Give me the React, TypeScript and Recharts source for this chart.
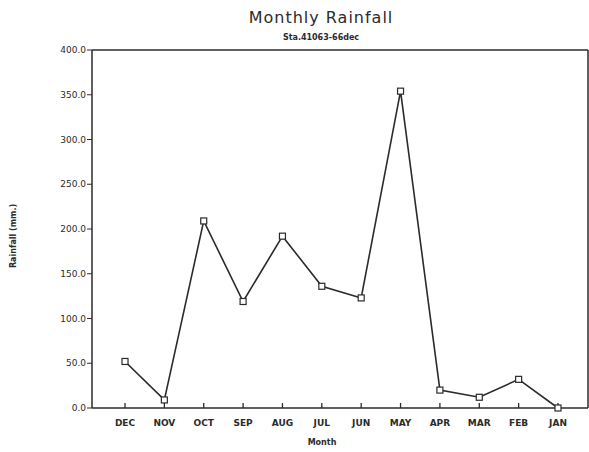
import React from 'react';
import { LineChart, Line, XAxis, YAxis } from 'recharts';

const months = ['DEC', 'NOV', 'OCT', 'SEP', 'AUG', 'JUL', 'JUN', 'MAY', 'APR', 'MAR', 'FEB', 'JAN'];
const rainfall = [52, 9, 209, 119, 192, 136, 123, 354, 20, 12, 32, 0];
const yTicks = [0, 50, 100, 150, 200, 250, 300, 350, 400];

const data = months.map((m, i) => ({ month: m, rain: rainfall[i] }));

const ink = '#2b2b2b';
const font = '"DejaVu Sans", sans-serif';

const Square = (props: any) => {
    const { cx, cy } = props;
    if (cx == null || cy == null) return null;
    return <rect x={cx - 3} y={cy - 3} width={6} height={6} fill="#fff" stroke={ink} strokeWidth={1.2} />;
};

// inward tick mark on the month axis, placed at each category on the baseline
const InTick = (props: any) => {
    const { cx, cy } = props;
    if (cx == null || cy == null) return null;
    return <line x1={cx} y1={cy} x2={cx} y2={cy - 5} stroke={ink} strokeWidth={1.3} />;
};

export default function App() {
    return (
        <div style={{ position: 'absolute', left: 0, top: 0, width: 589, height: 452, background: '#fff', fontFamily: font }}>
            <div style={{ position: 'absolute', left: 0, width: 642, top: 8, textAlign: 'center', fontSize: 16, letterSpacing: 1, color: ink }}>
                Monthly Rainfall
            </div>
            <div style={{ position: 'absolute', left: 0, width: 642, top: 33, textAlign: 'center', fontSize: 8, fontWeight: 'bold', color: ink }}>
                Sta.41063-66dec
            </div>
            <div style={{ position: 'absolute', left: 0, width: 644, top: 438, textAlign: 'center', fontSize: 8, fontWeight: 'bold', color: ink }}>
                Month
            </div>
            <div
                style={{
                    position: 'absolute', left: 13, top: 236, fontSize: 8, fontWeight: 'bold', color: ink,
                    transform: 'translate(-50%, -50%) rotate(-90deg)', whiteSpace: 'nowrap',
                }}
            >
                Rainfall (mm.)
            </div>
            <LineChart width={589} height={452} data={data} margin={{ top: 49, right: 0, left: 0, bottom: 14 }}>
                <XAxis
                    dataKey="month"
                    padding={{ left: 33, right: 30 }}
                    tickLine={false}
                    tickMargin={6}
                    tick={{ fontSize: 9, fontWeight: 'bold', fill: ink, fontFamily: font }}
                    axisLine={{ stroke: ink, strokeWidth: 1.5 }}
                    height={30}
                    interval={0}
                />
                {/* top and right edges of the frame */}
                <XAxis
                    xAxisId="top"
                    dataKey="month"
                    orientation="top"
                    height={1}
                    tick={false}
                    tickLine={false}
                    axisLine={{ stroke: ink, strokeWidth: 1.5 }}
                />
                <YAxis
                    domain={[0, 400]}
                    ticks={yTicks}
                    tickFormatter={(v: number) => v.toFixed(1)}
                    width={92}
                    tickSize={5}
                    tickMargin={1}
                    tickLine={{ stroke: ink }}
                    axisLine={{ stroke: ink, strokeWidth: 1.5 }}
                    tick={{ fontSize: 9, fill: ink, fontFamily: font }}
                />
                <YAxis
                    yAxisId="right"
                    orientation="right"
                    domain={[0, 400]}
                    width={1}
                    tick={false}
                    tickLine={false}
                    axisLine={{ stroke: ink, strokeWidth: 1.5 }}
                />
                <Line
                    dataKey={() => 0}
                    stroke="none"
                    dot={<InTick />}
                    activeDot={false}
                    legendType="none"
                    isAnimationActive={false}
                />
                <Line
                    type="linear"
                    dataKey="rain"
                    stroke={ink}
                    strokeWidth={1.6}
                    dot={<Square />}
                    activeDot={false}
                    isAnimationActive={false}
                />
            </LineChart>
        </div>
    );
}
